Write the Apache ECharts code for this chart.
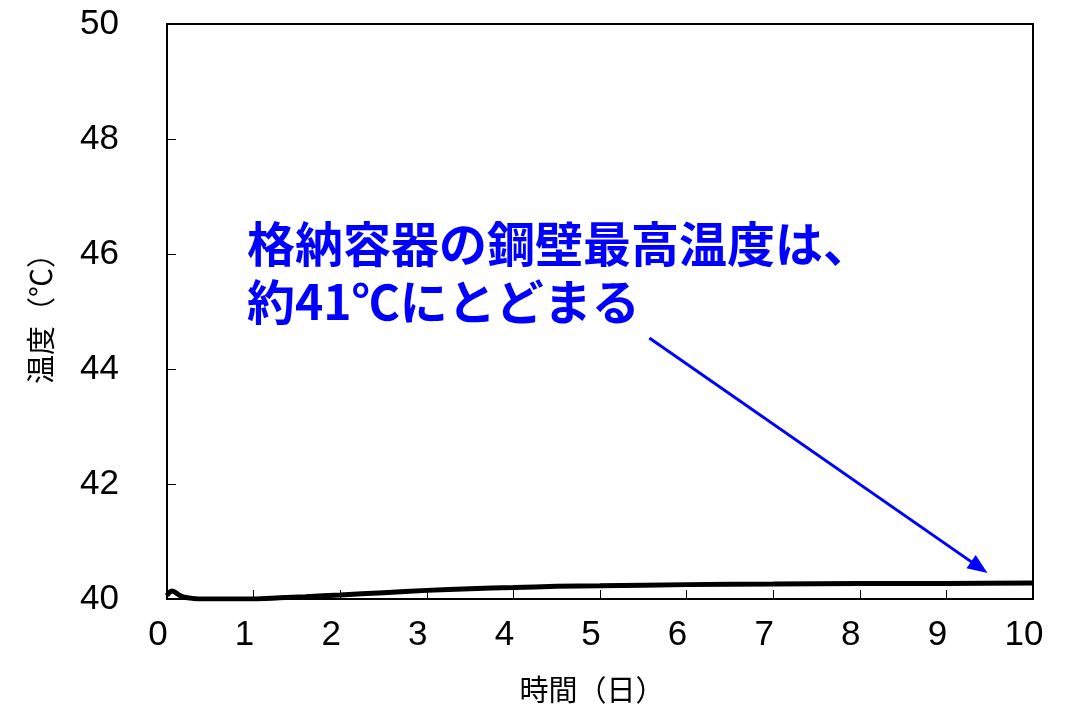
<!DOCTYPE html>
<html>
<head>
<meta charset="utf-8">
<script src="https://cdn.jsdelivr.net/npm/echarts@6/dist/echarts.min.js"></script>
<style>
  html, body { margin: 0; padding: 0; background: #fff; }
  #chart { width: 1067px; height: 704px; }
</style>
</head>
<body>
<div id="chart"></div>
<script>
// Elapsed time (days) and steel wall temperature (°C)
const timeDays = [0, 0.03, 0.06, 0.1, 0.15, 0.2, 0.3, 0.4, 0.7, 1.0, 1.3, 1.6, 2.0, 2.5, 3.0, 3.5, 4.0, 4.5, 5.0, 6.0, 7.0, 8.0, 9.0, 10.0];
const wallTemp = [40.06, 40.12, 40.14, 40.11, 40.06, 40.03, 40.01, 40.0, 40.0, 40.0, 40.02, 40.04, 40.07, 40.11, 40.15, 40.18, 40.2, 40.22, 40.23, 40.25, 40.26, 40.27, 40.27, 40.28];

// Annotation text and arrow (data coordinates: start -> tip)
const noteLines = ['格納容器の鋼壁最高温度は、', '約41℃にとどまる'];
const arrowFrom = [5.57, 44.54];
const arrowTo = [9.38, 40.55];

const xTitle = '時間（日）';
const yTitle = '温度（℃）';

const tickFont = "'Liberation Sans', Arial, sans-serif";
const cjkFont = "'Noto Sans CJK JP', sans-serif";

const chart = echarts.init(document.getElementById('chart'), null, { renderer: 'canvas' });

chart.setOption({
  animation: false,
  backgroundColor: '#fff',
  grid: {
    left: 167, top: 24, right: 34, bottom: 105,
    outerBoundsMode: 'none', containLabel: false,
    show: true, borderColor: '#000', borderWidth: 2, backgroundColor: 'transparent'
  },
  xAxis: {
    type: 'value', min: 0, max: 10, interval: 1,
    name: xTitle, nameLocation: 'middle', nameGap: 76,
    nameTextStyle: { fontFamily: cjkFont, fontSize: 29, color: '#000', padding: [0, 16, 0, 0] },
    axisLine: { show: true, lineStyle: { color: '#000', width: 2 } },
    axisTick: { show: true, inside: true, length: 9, lineStyle: { color: '#000', width: 1 } },
    axisLabel: { fontFamily: tickFont, fontSize: 35, color: '#000', margin: 19, padding: [0, 18, 0, 0] },
    splitLine: { show: false }
  },
  yAxis: {
    type: 'value', min: 40, max: 50, interval: 2,
    name: yTitle, nameLocation: 'middle', nameGap: 112, nameRotate: 90,
    nameTextStyle: { fontFamily: cjkFont, fontSize: 29, color: '#000' },
    axisLine: { show: true, lineStyle: { color: '#000', width: 2 } },
    axisTick: { show: true, inside: true, length: 9, lineStyle: { color: '#000', width: 1 } },
    axisLabel: { fontFamily: tickFont, fontSize: 35, color: '#000', margin: 48, padding: [4, 0, 0, 0] },
    splitLine: { show: false }
  },
  series: [{
    type: 'line',
    data: timeDays.map((t, i) => [t, wallTemp[i]]),
    symbol: 'none',
    smooth: 0.3,
    lineStyle: { color: '#000', width: 5 },
    markLine: {
      silent: true,
      symbol: ['none', 'triangle'],
      symbolSize: [16, 20],
      label: { show: false },
      lineStyle: { color: '#0000ff', width: 3, type: 'solid' },
      data: [[{ coord: arrowFrom }, { coord: arrowTo }]]
    }
  }],
  graphic: [{
    type: 'text',
    left: 247, top: 215,
    style: {
      text: noteLines.join('\n'),
      fontFamily: cjkFont,
      fontWeight: 'bold',
      fontSize: 48,
      lineHeight: 58,
      fill: '#0000ff'
    }
  }]
});
</script>
</body>
</html>
